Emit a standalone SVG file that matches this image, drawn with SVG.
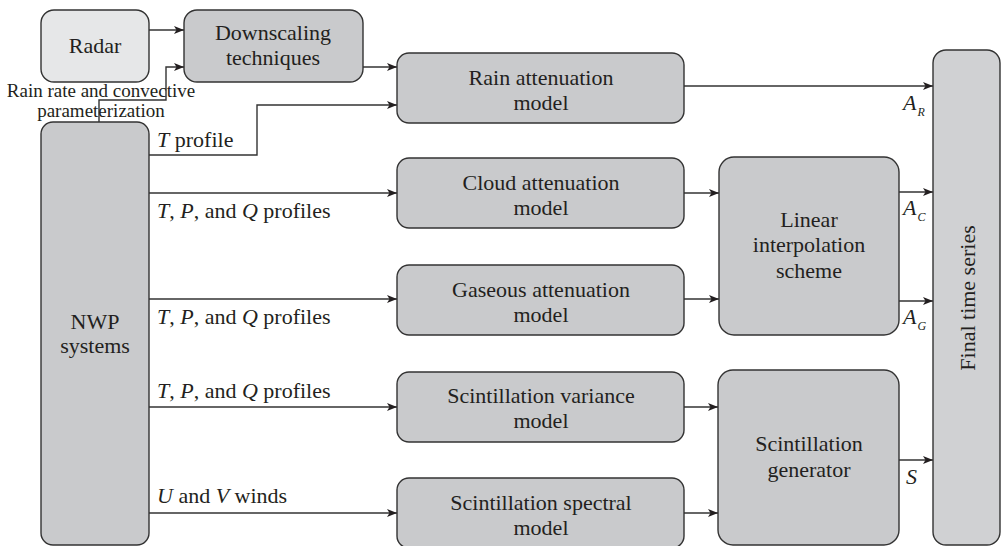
<svg xmlns="http://www.w3.org/2000/svg" width="1003" height="546" viewBox="0 0 1003 546">
  <defs>
    <marker id="arrow" markerWidth="11" markerHeight="8" refX="10" refY="4" orient="auto" markerUnits="userSpaceOnUse">
      <path d="M0,0 L10,4 L0,8 L2.5,4 Z" fill="#231f20"/>
    </marker>
    <style>
      .box { fill: #c9cacc; stroke: #333; stroke-width: 1.4; }
      .light { fill: #e6e7e8; }
      .final { fill: #d0d1d3; }
      .t { font-family: "Liberation Serif", "Times New Roman", serif; font-size: 22px; fill: #231f20; }
      .c { text-anchor: middle; }
      .small { font-size: 19px; }
      .sub { font-size: 12px; font-style: italic; }
      .i { font-style: italic; }
      .conn path { fill: none; stroke: #333; stroke-width: 1.4; marker-end: url(#arrow); }
    </style>
  </defs>
  <rect width="1003" height="546" fill="#ffffff"/>

  <!-- connectors -->
  <g id="connectors" class="conn">
    <path d="M149,30 H184"/>
    <path d="M99,122 V100 H166 V67 H184"/>
    <path d="M363,67 H397"/>
    <path d="M149,155 H257 V105 H397"/>
    <path d="M684,86 H933"/>
    <path d="M149,193 H397"/>
    <path d="M149,299 H397"/>
    <path d="M149,407 H397"/>
    <path d="M149,513 H397"/>
    <path d="M684,193 H719"/>
    <path d="M684,299 H719"/>
    <path d="M899,192 H933"/>
    <path d="M899,301 H933"/>
    <path d="M684,407 H718"/>
    <path d="M684,513 H718"/>
    <path d="M899,460 H933"/>
  </g>

  <!-- connector labels -->
  <g id="labels" class="t">
    <text class="t small c" x="101" y="97">Rain rate and convective</text>
    <text class="t small c" x="101" y="117">parameterization</text>
    <text x="157" y="147"><tspan class="i">T</tspan> profile</text>
    <text x="157" y="218"><tspan class="i">T</tspan>, <tspan class="i">P</tspan>, and <tspan class="i">Q</tspan> profiles</text>
    <text x="157" y="324"><tspan class="i">T</tspan>, <tspan class="i">P</tspan>, and <tspan class="i">Q</tspan> profiles</text>
    <text x="157" y="398"><tspan class="i">T</tspan>, <tspan class="i">P</tspan>, and <tspan class="i">Q</tspan> profiles</text>
    <text x="157" y="503"><tspan class="i">U</tspan> and <tspan class="i">V</tspan> winds</text>
    <text x="903" y="110"><tspan class="i">A</tspan><tspan class="sub" dx="1" dy="6">R</tspan></text>
    <text x="903" y="215"><tspan class="i">A</tspan><tspan class="sub" dx="1" dy="6">C</tspan></text>
    <text x="903" y="324"><tspan class="i">A</tspan><tspan class="sub" dx="1" dy="6">G</tspan></text>
    <text class="t i" x="906" y="484">S</text>
  </g>

  <g id="radar">
    <rect class="box light" x="41" y="10" width="108" height="72" rx="13"/>
    <text class="t c" x="95" y="53">Radar</text>
  </g>

  <g id="downscaling">
    <rect class="box" x="184" y="10" width="179" height="72" rx="13"/>
    <text class="t c" x="273" y="40">Downscaling</text>
    <text class="t c" x="273" y="65">techniques</text>
  </g>

  <g id="nwp">
    <rect class="box" x="41" y="122" width="108" height="423" rx="12"/>
    <text class="t c" x="95" y="329">NWP</text>
    <text class="t c" x="95" y="353">systems</text>
  </g>

  <g id="rain-attenuation">
    <rect class="box" x="397" y="53" width="287" height="70" rx="12"/>
    <text class="t c" x="541" y="85">Rain attenuation</text>
    <text class="t c" x="541" y="110">model</text>
  </g>

  <g id="cloud-attenuation">
    <rect class="box" x="397" y="158" width="287" height="70" rx="12"/>
    <text class="t c" x="541" y="190">Cloud attenuation</text>
    <text class="t c" x="541" y="215">model</text>
  </g>

  <g id="gaseous-attenuation">
    <rect class="box" x="397" y="265" width="287" height="70" rx="12"/>
    <text class="t c" x="541" y="297">Gaseous attenuation</text>
    <text class="t c" x="541" y="322">model</text>
  </g>

  <g id="scintillation-variance">
    <rect class="box" x="397" y="372" width="287" height="70" rx="12"/>
    <text class="t c" x="541" y="403">Scintillation variance</text>
    <text class="t c" x="541" y="428">model</text>
  </g>

  <g id="scintillation-spectral">
    <rect class="box" x="397" y="478" width="287" height="70" rx="12"/>
    <text class="t c" x="541" y="510">Scintillation spectral</text>
    <text class="t c" x="541" y="535">model</text>
  </g>

  <g id="linear-interpolation">
    <rect class="box" x="719" y="157" width="180" height="178" rx="15"/>
    <text class="t c" x="809" y="227">Linear</text>
    <text class="t c" x="809" y="252">interpolation</text>
    <text class="t c" x="809" y="278">scheme</text>
  </g>

  <g id="scintillation-generator">
    <rect class="box" x="718" y="370" width="181" height="175" rx="15"/>
    <text class="t c" x="809" y="451">Scintillation</text>
    <text class="t c" x="809" y="477">generator</text>
  </g>

  <g id="final-time-series">
    <rect class="box final" x="933" y="50" width="67" height="495" rx="13"/>
    <text class="t c" transform="translate(975,298) rotate(-90)">Final time series</text>
  </g>
</svg>
